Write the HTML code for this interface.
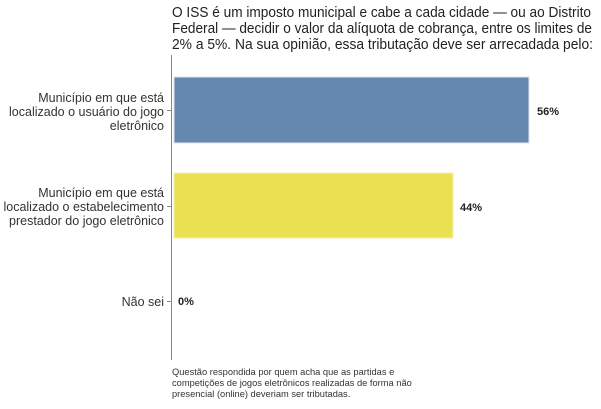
<!DOCTYPE html>
<html><head><meta charset="utf-8"><style>
body{margin:0;background:#fff;}
svg text{font-family:"Liberation Sans",Arial,sans-serif;}
</style></head><body>
<svg width="601" height="404" xmlns="http://www.w3.org/2000/svg">
<rect width="601" height="404" fill="#fff"/>
<g font-size="14.5" fill="#222" lengthAdjust="spacingAndGlyphs">
<text x="172" y="17" textLength="419" lengthAdjust="spacingAndGlyphs">O ISS é um imposto municipal e cabe a cada cidade — ou ao Distrito</text>
<text x="172" y="33" textLength="420" lengthAdjust="spacingAndGlyphs">Federal — decidir o valor da alíquota de cobrança, entre os limites de</text>
<text x="172" y="49" textLength="421" lengthAdjust="spacingAndGlyphs">2% a 5%.  Na sua opinião, essa tributação deve ser arrecadada pelo:</text>
</g>
<line x1="171.5" y1="55" x2="171.5" y2="360" stroke="#888" stroke-width="1"/>
<g stroke="#888"><line x1="167" y1="110.5" x2="171" y2="110.5"/><line x1="167" y1="206.5" x2="171" y2="206.5"/><line x1="167" y1="301.5" x2="171" y2="301.5"/></g>
<rect x="174" y="77" width="355" height="66" fill="#6588b0" stroke="#dde4ee"/>
<rect x="174" y="173" width="279" height="65" fill="#eae052" stroke="#f4efb0"/>
<g font-size="11" font-weight="bold" fill="#222">
<text x="537" y="115">56%</text>
<text x="460" y="211">44%</text>
<text x="178" y="305">0%</text>
</g>
<g font-size="12.5" fill="#333" text-anchor="end">
<text x="164" y="102">Município em que está</text>
<text x="164" y="116">localizado o usuário do jogo</text>
<text x="164" y="130">eletrônico</text>
<text x="164" y="197">Município em que está</text>
<text x="164" y="211">localizado o estabelecimento</text>
<text x="164" y="225">prestador do jogo eletrônico</text>
<text x="164" y="306">Não sei</text>
</g>
<g font-size="9.3" fill="#333">
<text x="172" y="375">Questão respondida por quem acha que as partidas e</text>
<text x="172" y="386">competições de jogos eletrônicos realizadas de forma não</text>
<text x="172" y="397">presencial (online) deveriam ser tributadas.</text>
</g>
</svg>
</body></html>
